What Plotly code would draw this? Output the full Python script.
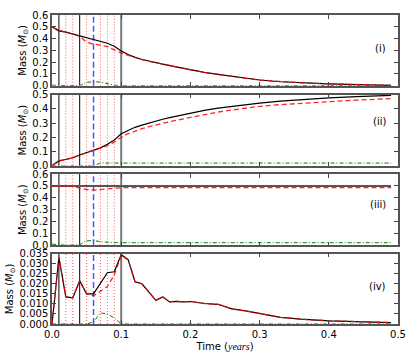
import plotly.graph_objects as go
from plotly.subplots import make_subplots

# ---------------- data ----------------
time = [0.00, 0.01, 0.02, 0.03, 0.04, 0.05, 0.06, 0.07, 0.08, 0.09, 0.10,
        0.11, 0.12, 0.13, 0.14, 0.15, 0.16, 0.17, 0.18, 0.19, 0.20,
        0.22, 0.24, 0.26, 0.28, 0.30, 0.33, 0.36, 0.40, 0.44, 0.49]

# panel (i)
p1_total = [0.50, 0.465, 0.455, 0.44, 0.425, 0.41, 0.395, 0.38, 0.36, 0.335, 0.295,
            0.265, 0.24, 0.222, 0.207, 0.194, 0.182, 0.170, 0.158, 0.146, 0.135,
            0.113, 0.095, 0.079, 0.062, 0.048, 0.033, 0.024, 0.015, 0.009, 0.003]
p1_red = [0.50, 0.47, 0.455, 0.44, 0.42, 0.368, 0.352, 0.345, 0.331, 0.304, 0.277,
          0.258, 0.238, 0.222, 0.207, 0.194, 0.182, 0.170, 0.158, 0.146, 0.135,
          0.113, 0.095, 0.079, 0.062, 0.048, 0.033, 0.024, 0.015, 0.009, 0.003]
p1_green = [0.005, 0.0, 0.002, 0.002, 0.0, 0.028, 0.033, 0.03, 0.015, 0.004, 0.0,
            0.0, 0.0, 0.0, 0.0, 0.0, 0.0, 0.0, 0.0, 0.0, 0.0,
            0.0, 0.0, 0.0, 0.0, 0.0, 0.0, 0.0, 0.0, 0.0, 0.0]

# panel (ii)
p2_total = [0.0, 0.033, 0.043, 0.055, 0.075, 0.09, 0.105, 0.125, 0.15, 0.18, 0.225,
            0.25, 0.27, 0.285, 0.30, 0.315, 0.327, 0.338, 0.349, 0.36, 0.372,
            0.39, 0.405, 0.418, 0.43, 0.44, 0.455, 0.466, 0.478, 0.487, 0.495]
p2_red = [0.0, 0.033, 0.043, 0.055, 0.075, 0.09, 0.105, 0.12, 0.14, 0.165, 0.20,
          0.225, 0.245, 0.26, 0.274, 0.287, 0.298, 0.31, 0.32, 0.33, 0.34,
          0.362, 0.378, 0.392, 0.405, 0.418, 0.43, 0.44, 0.452, 0.462, 0.472]
p2_green = [0.0, 0.0, 0.0, 0.0, 0.0, 0.0, 0.0, 0.018, 0.018, 0.018, 0.018,
            0.018, 0.018, 0.018, 0.018, 0.018, 0.018, 0.018, 0.018, 0.018, 0.018,
            0.018, 0.018, 0.018, 0.018, 0.018, 0.018, 0.018, 0.018, 0.018, 0.018]

# panel (iii)
p3_total = [0.5] * 31
p3_red = [0.5, 0.497, 0.497, 0.497, 0.482, 0.47, 0.465, 0.468, 0.472, 0.48, 0.485,
          0.487, 0.487, 0.487, 0.487, 0.487, 0.487, 0.487, 0.487, 0.487, 0.487,
          0.487, 0.487, 0.487, 0.487, 0.487, 0.487, 0.487, 0.487, 0.487, 0.487]
p3_green = [0.01, 0.003, 0.0, 0.002, 0.005, 0.038, 0.041, 0.03, 0.025, 0.022, 0.022,
            0.022, 0.022, 0.022, 0.022, 0.022, 0.022, 0.022, 0.022, 0.022, 0.022,
            0.022, 0.022, 0.022, 0.022, 0.022, 0.022, 0.022, 0.022, 0.022, 0.022]

# panel (iv)
p4_total = [0.0, 0.033, 0.0135, 0.013, 0.0215, 0.015, 0.015, 0.0205, 0.0255, 0.026, 0.0345,
            0.032, 0.021, 0.020, 0.016, 0.0118, 0.0135, 0.011, 0.0113, 0.011, 0.0112,
            0.0102, 0.0098, 0.0075, 0.0065, 0.0053, 0.0033, 0.0024, 0.0016, 0.0012, 0.0007]
p4_red = [0.0, 0.033, 0.0135, 0.013, 0.0215, 0.015, 0.014, 0.0161, 0.0186, 0.0245, 0.034,
          0.032, 0.021, 0.020, 0.016, 0.0118, 0.0135, 0.011, 0.0113, 0.011, 0.0112,
          0.0102, 0.0098, 0.0075, 0.0065, 0.0053, 0.0033, 0.0024, 0.0016, 0.0012, 0.0007]
p4_green = [0.0, 0.0, 0.0, 0.0, 0.0, 0.0, 0.001, 0.0055, 0.005, 0.003, 0.0,
            0.0, 0.0, 0.0, 0.0, 0.0, 0.0, 0.0, 0.0, 0.0, 0.0,
            0.0, 0.0, 0.0, 0.0, 0.0, 0.0, 0.0, 0.0, 0.0, 0.0]

# event markers (vertical lines)
black_events = [0.01, 0.04]
gray_events = [0.10]
red_events = [0.02, 0.03, 0.05, 0.07, 0.08, 0.09]
blue_events = [0.06]

panel_labels = ["(i)", "(ii)", "(iii)", "(iv)"]
y_ranges = [[0, 0.6], [0, 0.5], [0, 0.6], [0, 0.035]]
y_dticks = [0.1, 0.1, 0.1, 0.005]
y_formats = [".1f", ".1f", ".1f", ".3f"]
x_ticks = [0.0, 0.1, 0.2, 0.3, 0.4, 0.5]

panels = [(p1_total, p1_red, p1_green), (p2_total, p2_red, p2_green),
          (p3_total, p3_red, p3_green), (p4_total, p4_red, p4_green)]

# ---------------- figure ----------------
FONT = "DejaVu Sans"
fig = make_subplots(rows=4, cols=1, shared_xaxes=True, vertical_spacing=0.03)

domains = [[0.7714, 1.0], [0.5126, 0.7421], [0.2547, 0.4852], [0.0, 0.2277]]
label_y = [0.53, 0.626, 0.573, 0.53]

shapes = []
for i, (tot, red, grn) in enumerate(panels):
    r = i + 1
    fig.add_trace(go.Scatter(x=time, y=grn, mode="lines",
                             line=dict(color="green", width=1, dash="4px,2px,1px,2px"),
                             showlegend=False, hoverinfo="skip"), row=r, col=1)
    fig.add_trace(go.Scatter(x=time, y=tot, mode="lines",
                             line=dict(color="#555" if i == 2 else "black",
                                       width=2 if i == 2 else 1.2),
                             showlegend=False), row=r, col=1)
    fig.add_trace(go.Scatter(x=time, y=red, mode="lines",
                             line=dict(color="rgba(255,0,0,0.85)", width=1.3, dash="5px,3px"),
                             showlegend=False), row=r, col=1)
    xref = "x" if r == 1 else f"x{r}"
    yref = ("y" if r == 1 else f"y{r}") + " domain"
    for t in black_events:
        shapes.append(dict(type="line", x0=t, x1=t, y0=0, y1=1, xref=xref, yref=yref,
                           line=dict(color="black", width=1), layer="below"))
    for t in gray_events:
        shapes.append(dict(type="line", x0=t, x1=t, y0=0, y1=1, xref=xref, yref=yref,
                           line=dict(color="#7a7a7a", width=2), layer="below"))
    for t in red_events:
        shapes.append(dict(type="line", x0=t, x1=t, y0=0, y1=1, xref=xref, yref=yref,
                           line=dict(color="rgba(255,60,60,0.85)", width=1, dash="1px,2px"),
                           layer="below"))
    for t in blue_events:
        shapes.append(dict(type="line", x0=t, x1=t, y0=0, y1=1, xref=xref, yref=yref,
                           line=dict(color="rgba(50,50,255,0.85)", width=1.5, dash="6px,3px"),
                           layer="below"))
    fig.add_annotation(text=panel_labels[i], xref=f"{xref} domain", yref=yref,
                       x=0.972, y=label_y[i], xanchor="right", yanchor="middle",
                       showarrow=False, font=dict(family=FONT, size=10, color="black"))

    fig.update_yaxes(row=r, col=1, range=y_ranges[i], dtick=y_dticks[i], tick0=0,
                     tickformat=y_formats[i], domain=domains[i],
                     ticks="inside", ticklen=4, tickcolor="#444", mirror="ticks",
                     showline=True, linecolor="#555", linewidth=1.5,
                     showgrid=False, zeroline=False,
                     tickfont=dict(family=FONT, size=10, color="black"),
                     title=dict(text="Mass (<i>M</i><sub>⊙</sub>)",
                                font=dict(family=FONT, size=10, color="black"),
                                standoff=4))
    fig.update_xaxes(row=r, col=1, range=[0, 0.5], tickvals=x_ticks,
                     ticktext=[f"{v:.1f}" for v in x_ticks],
                     ticks="inside", ticklen=4, tickcolor="#444", mirror="ticks",
                     showline=True, linecolor="#555", linewidth=1.5,
                     showgrid=False, zeroline=False,
                     tickfont=dict(family=FONT, size=10, color="black"))

fig.update_xaxes(row=4, col=1, showticklabels=True,
                 title=dict(text='Time (<span style="font-family:Liberation Serif"><i>years</i></span>)',
                            font=dict(family=FONT, size=10, color="black"), standoff=4))

fig.update_layout(width=415, height=360, shapes=shapes,
                  margin=dict(l=50, r=13, t=9, b=33),
                  plot_bgcolor="white", paper_bgcolor="white",
                  font=dict(family=FONT, size=10, color="black"))

fig.write_html("out.html", config={"displayModeBar": False},
               post_script="document.body.style.margin='0';document.body.style.padding='0';")
